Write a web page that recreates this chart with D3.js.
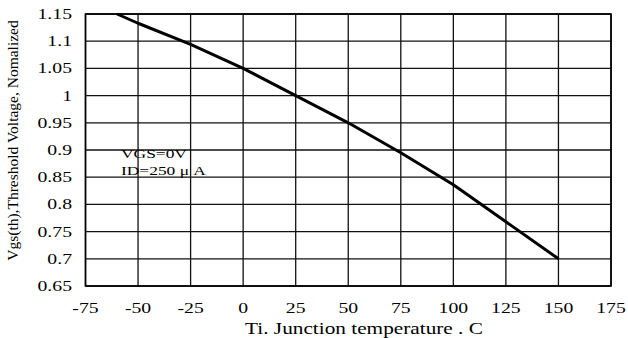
<!DOCTYPE html>
<html><head><meta charset="utf-8">
<script src="https://cdn.jsdelivr.net/npm/d3@7"></script>
<style>
html,body{margin:0;padding:0;background:#fff;}
text{font-family:"Liberation Serif","Times New Roman",serif;fill:#000;}
</style></head>
<body>
<script>
const temps = [-60, -50, -25, 0, 25, 50, 75, 100, 125, 150];
const vth = [1.15, 1.133, 1.094, 1.05, 1.0, 0.95, 0.895, 0.836, 0.768, 0.7];
const xTicks = [-75, -50, -25, 0, 25, 50, 75, 100, 125, 150, 175];
const yTicks = [0.65, 0.7, 0.75, 0.8, 0.85, 0.9, 0.95, 1, 1.05, 1.1, 1.15];
const yTickLabels = ["0.65","0.7","0.75","0.8","0.85","0.9","0.95","1","1.05","1.1","1.15"];
const xTitle = "Ti. Junction temperature . C";
const yTitle = "Vgs(th),Threshold Voltage, Nomalized";
const notes = ["VGS=0V", "ID=250 \u03bc A"];

const W = 628, H = 338;
const L = 85.5, R = 611, T = 14, B = 286;
const svg = d3.select("body").append("svg").attr("width", W).attr("height", H);
svg.append("rect").attr("width", W).attr("height", H).attr("fill", "#fff");

const x = d3.scaleLinear().domain([-75, 175]).range([L, R]);
const y = d3.scaleLinear().domain([0.65, 1.15]).range([B, T]);

// grid
const g = svg.append("g");
g.selectAll(".vg").data(xTicks).enter().append("line")
  .attr("x1", d => x(d)).attr("x2", d => x(d)).attr("y1", T).attr("y2", B)
  .attr("stroke", "#111").attr("stroke-width", 1.3);
g.selectAll(".hg").data(yTicks).enter().append("line")
  .attr("y1", d => y(d)).attr("y2", d => y(d)).attr("x1", L).attr("x2", R)
  .attr("stroke", "#111").attr("stroke-width", 1.3);
svg.append("rect").attr("x", L).attr("y", T).attr("width", R - L).attr("height", B - T)
  .attr("fill", "none").attr("stroke", "#000").attr("stroke-width", 1.6);

// y tick labels
const sx = 1.36;
svg.selectAll(".yl").data(yTicks).enter().append("text")
  .attr("transform", d => `translate(72,${y(d)}) scale(${sx},1)`)
  .attr("text-anchor", "end").attr("dy", "0.35em")
  .style("font-size", "14.5px")
  .text((d, i) => yTickLabels[i]);

// x tick labels
svg.selectAll(".xl").data(xTicks).enter().append("text")
  .attr("transform", d => `translate(${x(d)},308) scale(${sx},1)`)
  .attr("text-anchor", "middle").attr("dy", "0.35em")
  .style("font-size", "14.5px")
  .text(d => d);

// axis titles
svg.append("text")
  .attr("transform", `translate(364,334) scale(1.33,1)`)
  .attr("text-anchor", "middle").style("font-size", "16px").text(xTitle);
svg.append("text")
  .attr("transform", `translate(17.5,140.5) rotate(-90)`)
  .attr("text-anchor", "middle").style("font-size", "15.5px").text(yTitle);

// notes
svg.selectAll(".nt").data(notes).enter().append("text")
  .attr("transform", (d, i) => `translate(121,${153 + i * 17}) scale(1.29,1)`)
  .attr("dy", "0.35em").style("font-size", "13.5px").text(d => d);

// curve
const line = d3.line().x(d => x(d[0])).y(d => y(d[1]));
svg.append("path").datum(temps.map((t, i) => [t, vth[i]]))
  .attr("d", line).attr("fill", "none").attr("stroke", "#000")
  .attr("stroke-width", 3).attr("stroke-linejoin", "round");
</script>
</body></html>
